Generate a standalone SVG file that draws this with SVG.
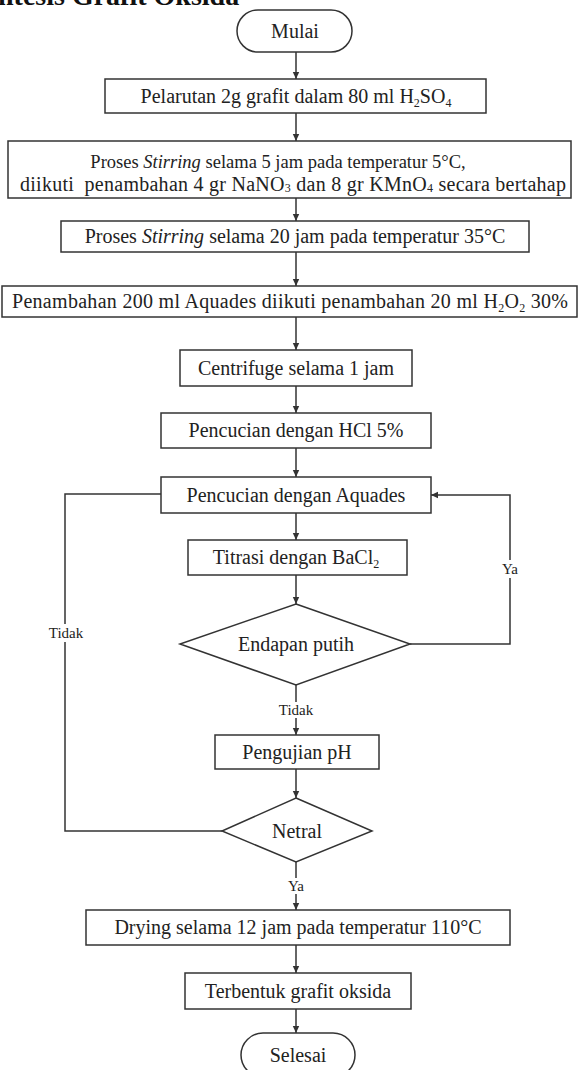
<svg xmlns="http://www.w3.org/2000/svg" width="578" height="1070" viewBox="0 0 578 1070">
<style>
.n{fill:#fff;stroke:#333;stroke-width:1.5}
.t{font-family:"Liberation Serif","Times New Roman",serif;font-size:20px;fill:#222;text-anchor:middle}
.l{font-family:"Liberation Serif","Times New Roman",serif;font-size:15px;fill:#222;text-anchor:middle}
.c{fill:none;stroke:#333;stroke-width:1.5}
.title{font-family:"Liberation Serif","Times New Roman",serif;font-size:28px;font-weight:bold;fill:#111}
</style>
<defs>
<marker id="ah" markerWidth="8" markerHeight="8" refX="7" refY="4" orient="auto" markerUnits="userSpaceOnUse">
<path d="M0,0.8 L7,4 L0,7.2 Z" fill="#333"/>
</marker>
</defs>
<rect width="578" height="1070" fill="#fff"/>
<text class="title" x="-2" y="5">ntesis Grafit Oksida</text>

<g id="connectors">
<path class="c" d="M296,52 V79" marker-end="url(#ah)"/>
<path class="c" d="M296,113 V141" marker-end="url(#ah)"/>
<path class="c" d="M296,198 V221" marker-end="url(#ah)"/>
<path class="c" d="M296,252 V286" marker-end="url(#ah)"/>
<path class="c" d="M296,317 V350" marker-end="url(#ah)"/>
<path class="c" d="M296,386 V413" marker-end="url(#ah)"/>
<path class="c" d="M296,448 V477" marker-end="url(#ah)"/>
<path class="c" d="M296,513 V540" marker-end="url(#ah)"/>
<path class="c" d="M296,575 V604" marker-end="url(#ah)"/>
<path class="c" d="M296,685 V702"/>
<path class="c" d="M296,718 V735" marker-end="url(#ah)"/>
<path class="c" d="M410,644 H510 V578"/>
<path class="c" d="M510,560 V495 H431" marker-end="url(#ah)"/>
<path class="c" d="M296,769 V798" marker-end="url(#ah)"/>
<path class="c" d="M222,831 H65 V642"/>
<path class="c" d="M65,624 V494 H161"/>
<path class="c" d="M296,862 V878"/>
<path class="c" d="M296,894 V910" marker-end="url(#ah)"/>
<path class="c" d="M296,945 V973" marker-end="url(#ah)"/>
<path class="c" d="M296,1009 V1033" marker-end="url(#ah)"/>
<text class="l" x="510" y="574">Ya</text>
<text class="l" x="66" y="638">Tidak</text>
<text class="l" x="296" y="715">Tidak</text>
<text class="l" x="296" y="891">Ya</text>
</g>

<g id="mulai">
<rect class="n" x="237" y="10" width="115" height="42" rx="21"/>
<text class="t" x="295" y="37.5">Mulai</text>
</g>
<g id="pelarutan">
<rect class="n" x="105" y="79" width="381" height="34"/>
<text class="t" x="296" y="103">Pelarutan 2g grafit dalam 80 ml H<tspan font-size="12" dy="4">2</tspan><tspan dy="-4">SO</tspan><tspan font-size="12" dy="4">4</tspan></text>
</g>
<g id="stirring5">
<rect class="n" x="8" y="141" width="563" height="57"/>
<text class="t" x="278" y="168" style="font-size:18.5px">Proses <tspan font-style="italic">Stirring</tspan> selama 5 jam pada temperatur 5°C,</text>
<text class="t" x="293" y="191" textLength="546" lengthAdjust="spacing" xml:space="preserve">diikuti  penambahan 4 gr NaNO<tspan font-size="12" dy="1">3</tspan><tspan dy="-1"> dan 8 gr KMnO</tspan><tspan font-size="12" dy="1">4</tspan><tspan dy="-1"> secara bertahap</tspan></text>
</g>
<g id="stirring20">
<rect class="n" x="61" y="221" width="468" height="31"/>
<text class="t" x="295" y="243">Proses <tspan font-style="italic">Stirring</tspan> selama 20 jam pada temperatur 35°C</text>
</g>
<g id="penambahan">
<rect class="n" x="2" y="286" width="575" height="31"/>
<text class="t" x="290" y="308" textLength="556" lengthAdjust="spacing">Penambahan 200 ml Aquades diikuti penambahan 20 ml H<tspan font-size="12" dy="4">2</tspan><tspan dy="-4">O</tspan><tspan font-size="12" dy="4">2</tspan><tspan dy="-4"> 30%</tspan></text>
</g>
<g id="centrifuge">
<rect class="n" x="180" y="350" width="232" height="36"/>
<text class="t" x="296" y="374.5">Centrifuge selama 1 jam</text>
</g>
<g id="hcl">
<rect class="n" x="161" y="413" width="270" height="35"/>
<text class="t" x="296" y="437">Pencucian dengan HCl 5%</text>
</g>
<g id="aquades">
<rect class="n" x="161" y="477" width="270" height="36"/>
<text class="t" x="296" y="501.5">Pencucian dengan Aquades</text>
</g>
<g id="titrasi">
<rect class="n" x="188" y="540" width="219" height="35"/>
<text class="t" x="296" y="564">Titrasi dengan BaCl<tspan font-size="12" dy="4">2</tspan></text>
</g>
<g id="endapan">
<polygon class="n" points="296,604 410,644 296,685 180,644"/>
<text class="t" x="296" y="650.5">Endapan putih</text>
</g>
<g id="ph">
<rect class="n" x="215" y="735" width="164" height="34"/>
<text class="t" x="297" y="758.5">Pengujian pH</text>
</g>
<g id="netral">
<polygon class="n" points="296,798 372,831 296,862 222,831"/>
<text class="t" x="297" y="837.5">Netral</text>
</g>
<g id="drying">
<rect class="n" x="86" y="910" width="424" height="35"/>
<text class="t" x="298" y="934">Drying selama 12 jam pada temperatur 110°C</text>
</g>
<g id="terbentuk">
<rect class="n" x="185" y="973" width="226" height="36"/>
<text class="t" x="298" y="997.5">Terbentuk grafit oksida</text>
</g>
<g id="selesai">
<rect class="n" x="241" y="1033" width="114" height="44" rx="22"/>
<text class="t" x="298" y="1062">Selesai</text>
</g>
</svg>
